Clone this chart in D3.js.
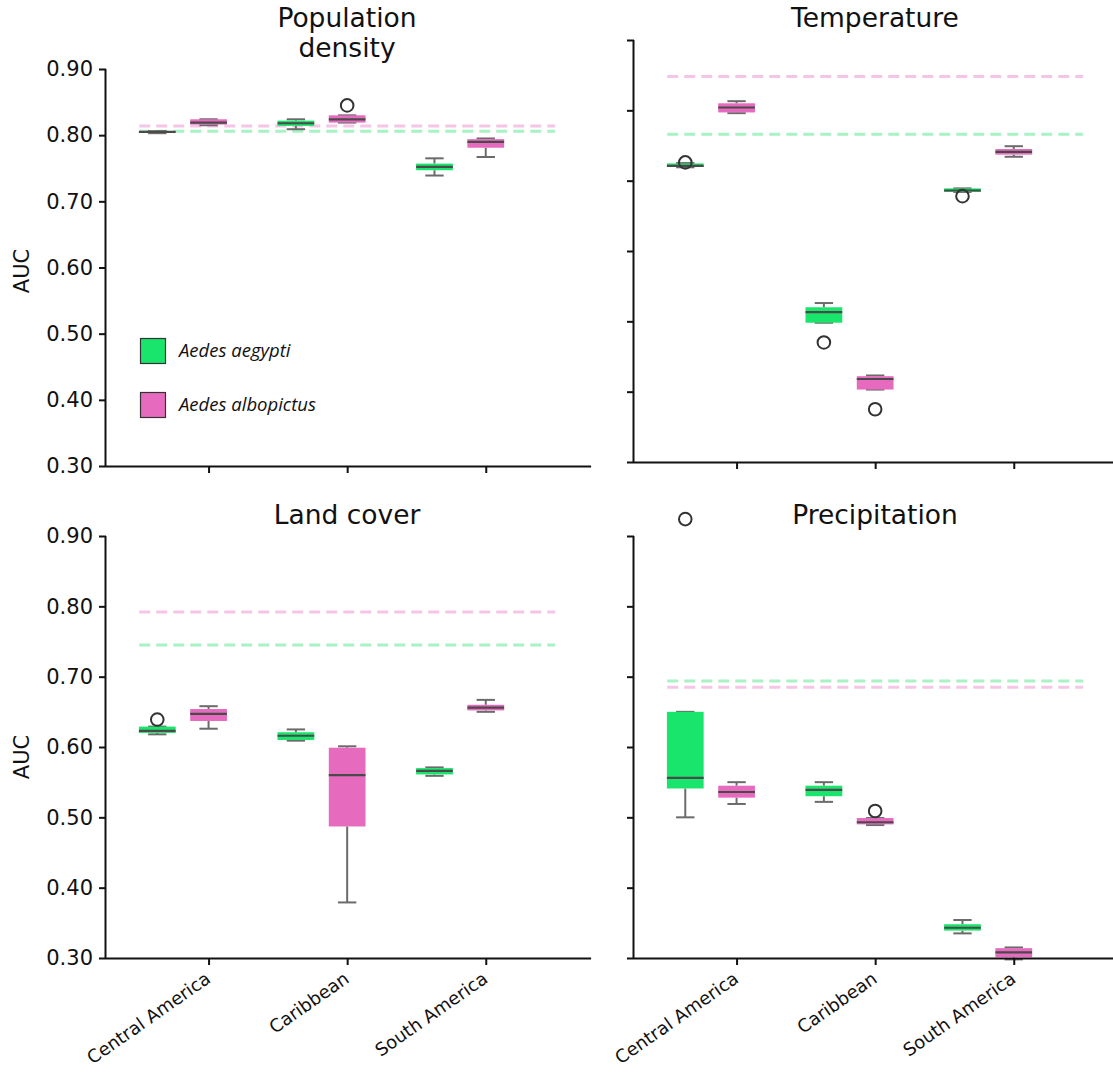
<!DOCTYPE html>
<html><head><meta charset="utf-8">
<script src="https://cdn.jsdelivr.net/npm/d3@7"></script>
<style>body{margin:0;background:#fff}svg{display:block}</style>
</head><body>
<script>
const regions = ["Central America", "Caribbean", "South America"];
const species = ["Aedes aegypti", "Aedes albopictus"];
const yTicks = [0.3, 0.4, 0.5, 0.6, 0.7, 0.8, 0.9];
// box stats per region: [whiskerLow, q1, median, q3, whiskerHigh]
const popAegypti   = [[0.803,0.804,0.805,0.806,0.806],[0.809,0.814,0.818,0.822,0.824],[0.739,0.747,0.752,0.757,0.765]];
const popAlbopictus= [[0.815,0.816,0.819,0.824,0.824],[0.819,0.819,0.824,0.830,0.830],[0.767,0.781,0.790,0.794,0.795]];
const tempAegypti  = [[0.719,0.7195,0.721,0.7245,0.725],[0.498,0.498,0.513,0.520,0.526],[0.684,0.684,0.686,0.689,0.689]];
const tempAlbopictus=[[0.796,0.797,0.804,0.810,0.813],[0.403,0.403,0.418,0.422,0.423],[0.734,0.737,0.741,0.745,0.749]];
const landAegypti  = [[0.618,0.620,0.623,0.629,0.629],[0.609,0.610,0.616,0.621,0.625],[0.559,0.561,0.566,0.570,0.571]];
const landAlbopictus=[[0.626,0.637,0.647,0.654,0.658],[0.379,0.487,0.560,0.599,0.601],[0.650,0.652,0.656,0.660,0.667]];
const precAegypti  = [[0.500,0.541,0.556,0.650,0.650],[0.522,0.530,0.539,0.545,0.550],[0.335,0.339,0.343,0.348,0.354]];
const precAlbopictus=[[0.519,0.528,0.536,0.545,0.550],[0.489,0.490,0.493,0.499,0.499],[0.298,0.301,0.308,0.314,0.315]];
// outliers: [regionIndex, speciesIndex, value]
const popOutliers  = [[1,1,0.845]];
const tempOutliers = [[0,0,0.726],[1,0,0.470],[1,1,0.375],[2,0,0.678]];
const landOutliers = [[0,0,0.639]];
const precOutliers = [[0,0,0.924],[1,1,0.509]];
// dashed reference lines: [aegypti, albopictus]
const popRef  = [0.806, 0.814];
const tempRef = [0.766, 0.848];
const landRef = [0.745, 0.792];
const precRef = [0.694, 0.685];

const panels = [
  {title:["Population","density"], stats:[popAegypti,popAlbopictus], out:popOutliers, ref:popRef},
  {title:["Temperature"], stats:[tempAegypti,tempAlbopictus], out:tempOutliers, ref:tempRef},
  {title:["Land cover"], stats:[landAegypti,landAlbopictus], out:landOutliers, ref:landRef},
  {title:["Precipitation"], stats:[precAegypti,precAlbopictus], out:precOutliers, ref:precRef}
];
const colors = ["#19E46B", "#E66BBF"];
const refColors = ["#A8F2C5", "#F5C5E6"];
const FONT = "'DejaVu Sans', sans-serif";

const W = 1113, H = 1078;
const svg = d3.select("body").append("svg").attr("width", W).attr("height", H)
  .style("font-family", FONT);

const layout = [
  {x0:106, yTop:69,  yBot:466, titleY:27, leftLabels:true,  bottomLabels:false},
  {x0:634, yTop:40,  yBot:462, titleY:27, leftLabels:false, bottomLabels:false},
  {x0:106, yTop:536, yBot:958, titleY:524, leftLabels:true, bottomLabels:true},
  {x0:634, yTop:536, yBot:958, titleY:524, leftLabels:false, bottomLabels:true}
];
const unit = 138.6;
const offsets = [-0.37, 0];
const boxW = 0.265;

panels.forEach((p, i) => {
  const L = layout[i];
  const x = d3.scaleLinear().domain([-0.74, 2.76]).range([L.x0, L.x0 + 3.5*unit]);
  const y = d3.scaleLinear().domain([0.3, 0.9]).range([L.yBot, L.yTop]);
  const g = svg.append("g");
  const tc = i % 2 === 0 ? 347 : 875;

  p.ref.forEach((v, s) => {
    g.append("line").attr("x1", x(-0.5)).attr("x2", x(2.5)).attr("y1", y(v)).attr("y2", y(v))
      .attr("stroke", refColors[s]).attr("stroke-width", 3).attr("stroke-dasharray", "11,6");
  });

  p.stats.forEach((arr, s) => {
    arr.forEach((st, r) => {
      const c = r + offsets[s];
      const bx0 = x(c - boxW/2), bx1 = x(c + boxW/2), mx = x(c);
      const [lo, q1, med, q3, hi] = st;
      const wcol = "#6b6b6b";
      g.append("line").attr("x1", mx).attr("x2", mx).attr("y1", y(q1)).attr("y2", y(lo)).attr("stroke", wcol).attr("stroke-width", 2);
      g.append("line").attr("x1", mx).attr("x2", mx).attr("y1", y(q3)).attr("y2", y(hi)).attr("stroke", wcol).attr("stroke-width", 2);
      const capW = (bx1 - bx0) / 4;
      [lo, hi].forEach(v => g.append("line").attr("x1", mx - capW).attr("x2", mx + capW)
        .attr("y1", y(v)).attr("y2", y(v)).attr("stroke", wcol).attr("stroke-width", 2));
      g.append("rect").attr("x", bx0).attr("width", bx1 - bx0)
        .attr("y", y(q3)).attr("height", Math.max(1.5, y(q1) - y(q3)))
        .attr("fill", colors[s]);
      g.append("line").attr("x1", bx0).attr("x2", bx1).attr("y1", y(med)).attr("y2", y(med))
        .attr("stroke", "#4a4a4a").attr("stroke-width", 2.2);
    });
  });
  p.out.forEach(([r, s, v]) => {
    g.append("circle").attr("cx", x(r + offsets[s])).attr("cy", y(v)).attr("r", 6.3)
      .attr("fill", "none").attr("stroke", "#333").attr("stroke-width", 2);
  });

  const ya = d3.axisLeft(y).tickValues(yTicks).tickSize(7).tickPadding(6)
    .tickFormat(L.leftLabels ? d3.format(".2f") : () => "");
  const yg = g.append("g").attr("transform", `translate(${L.x0},0)`).call(ya)
    .attr("font-family", FONT).attr("font-size", 21);
  yg.select(".domain").attr("d", `M-0.5,${L.yTop}V${L.yBot}`).attr("stroke", "#111").attr("stroke-width", 2);
  yg.selectAll(".tick line").attr("stroke", "#111").attr("stroke-width", 2);
  yg.selectAll("text").attr("fill", "#111");

  const xa = d3.axisBottom(x).tickValues([0,1,2]).tickSize(7).tickFormat(() => "");
  const xg = g.append("g").attr("transform", `translate(0,${L.yBot})`).call(xa);
  xg.select(".domain").attr("d", `M${L.x0},0.5H${x(2.76)}`).attr("stroke", "#111").attr("stroke-width", 2);
  xg.selectAll(".tick line").attr("stroke", "#111").attr("stroke-width", 2);
  if (L.bottomLabels) {
    regions.forEach((name, r) => {
      g.append("text").attr("transform", `translate(${x(r) - 4},${L.yBot + 13}) rotate(-35)`)
        .attr("text-anchor", "end").attr("dy", "0.7em").attr("font-size", 18)
        .attr("font-family", FONT).attr("fill", "#111").text(name);
    });
  }

  p.title.forEach((t, k) => {
    g.append("text").attr("x", tc).attr("y", L.titleY + k*30).attr("text-anchor", "middle")
      .attr("font-size", 26.5).attr("font-family", FONT).attr("fill", "#111").text(t);
  });

  if (L.leftLabels) {
    const cy = i === 0 ? 271 : 757;
    g.append("text").attr("transform", `translate(29,${cy}) rotate(-90)`).attr("text-anchor", "middle")
      .attr("font-size", 21).attr("font-family", FONT).attr("fill", "#111").text("AUC");
  }
});

const lg = svg.append("g");
species.forEach((s, k) => {
  const yy = 338 + k*54;
  lg.append("rect").attr("x", 140.5).attr("y", yy + 0.5).attr("width", 25).attr("height", 25)
    .attr("fill", colors[k]).attr("stroke", "#333").attr("stroke-width", 1.2);
  lg.append("text").attr("x", 179).attr("y", yy + 19).attr("font-family", "'Open Sans', sans-serif")
    .attr("font-style", "italic").attr("font-size", 18.5).attr("fill", "#111").text(s);
});
</script>
</body></html>
